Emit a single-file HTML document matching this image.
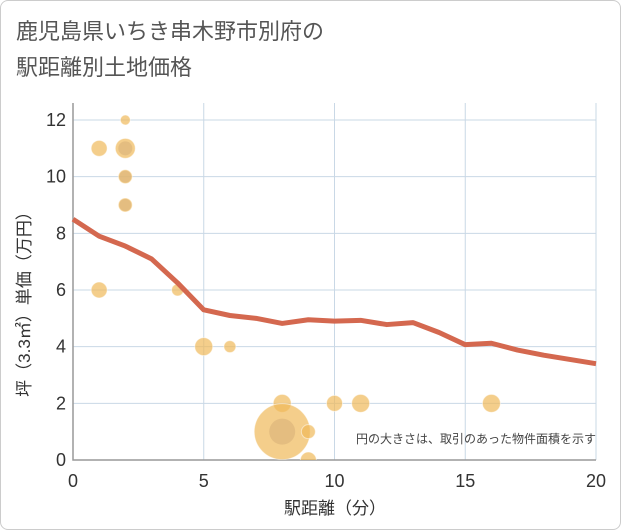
<!DOCTYPE html>
<html><head><meta charset="utf-8"><style>
body{margin:0;background:#fff;}
#card{position:absolute;left:0;top:0;width:619px;height:528px;border:1px solid #ccc;border-radius:8px;background:#fff;}
.t{font-family:"Liberation Sans","Noto Sans CJK JP",sans-serif;}
</style></head><body>
<div id="card"></div>
<div class="t" style="position:absolute;left:16px;top:14px;font-size:22px;line-height:36px;color:#555;">鹿児島県いちき串木野市別府の<br>駅距離別土地価格</div>
<svg id="chart" width="621" height="530" style="position:absolute;left:0;top:0"></svg>
<script>
const xTicks=[0,5,10,15,20];
const yTicks=[0,2,4,6,8,10,12];
const bubbleX=[1,2,2,2,2,1,4,5,6,8,8,9,9,10,11,16];
const bubbleY=[11,12,11,10,9,6,6,4,4,2,1,1,0,2,2,2];
const bubbleR=[8,5,10,7,7,8,6,9,6,9,28,7,8,8,9,9];
const innerX=[2,2,2,8];
const innerY=[11,10,9,1];
const innerR=[7,6,6,13];
const lineX=[0,1,2,3,4,5,6,7,8,9,10,11,12,13,14,15,16,17,18,19,20];
const lineY=[8.5,7.9,7.55,7.1,6.25,5.3,5.1,5.0,4.82,4.95,4.9,4.93,4.78,4.85,4.5,4.07,4.12,3.88,3.7,3.55,3.4];
const NS="http://www.w3.org/2000/svg",svg=document.getElementById('chart');
const X0=73,X1=596,Y0=460,Y1=120;
const sx=v=>X0+(X1-X0)*v/20, sy=v=>Y0-(Y0-Y1)*v/12;
function mk(t,a){const e=document.createElementNS(NS,t);for(const k in a)e.setAttribute(k,a[k]);svg.appendChild(e);return e;}
const clip=mk('clipPath',{id:'pc'});const cr=document.createElementNS(NS,'rect');cr.setAttribute('x',X0);cr.setAttribute('y',103);cr.setAttribute('width',X1-X0);cr.setAttribute('height',Y0-103);clip.appendChild(cr);
xTicks.forEach(v=>{const l=mk('line',{x1:sx(v),x2:sx(v),y1:103,y2:Y0,stroke:'#c9d8e6','stroke-width':1});

const t=mk('text',{x:sx(v),y:487,'text-anchor':'middle','font-size':18,fill:'#333',class:'t'});t.textContent=v;
});
yTicks.forEach(v=>{const l=mk('line',{x1:X0,x2:X1,y1:sy(v),y2:sy(v),stroke:'#c9d8e6','stroke-width':1});

const t=mk('text',{x:66,y:sy(v)+6,'text-anchor':'end','font-size':18,fill:'#333',class:'t'});t.textContent=v;
});
const ax=mk('path',{d:`M${X0} 103V${Y0}H${X1}`,stroke:'#999',fill:'none','stroke-width':1.5});

const g=mk('g',{'clip-path':'url(#pc)'});
bubbleX.forEach((v,i)=>{const c=document.createElementNS(NS,'circle');c.setAttribute('cx',sx(v));c.setAttribute('cy',sy(bubbleY[i]));c.setAttribute('r',bubbleR[i]);c.setAttribute('fill','#f0b95a');c.setAttribute('fill-opacity','0.7');c.setAttribute('stroke','#fff');c.setAttribute('stroke-opacity','0.5');
g.appendChild(c);});
innerX.forEach((v,i)=>{const c=document.createElementNS(NS,'circle');c.setAttribute('cx',sx(v));c.setAttribute('cy',sy(innerY[i]));c.setAttribute('r',innerR[i]);c.setAttribute('fill','#d9b27a');c.setAttribute('fill-opacity','0.6');
g.appendChild(c);});
const p=mk('polyline',{points:lineX.map((v,i)=>sx(v)+','+sy(lineY[i])).join(' '),fill:'none',stroke:'#d4684f','stroke-width':5,'stroke-linejoin':'round'});

const n=mk('text',{x:596,y:443,'text-anchor':'end','font-size':12,fill:'#444',class:'t'});n.textContent='円の大きさは、取引のあった物件面積を示す';

const xt=mk('text',{x:335,y:514,'text-anchor':'middle','font-size':17,fill:'#333',class:'t'});xt.textContent='駅距離（分）';

const yt=mk('text',{x:0,y:0,'text-anchor':'middle','font-size':17,fill:'#333',class:'t',transform:'translate(30,300) rotate(-90)'});yt.textContent='坪（3.3㎡）単価（万円）';

</script>
</body></html>
